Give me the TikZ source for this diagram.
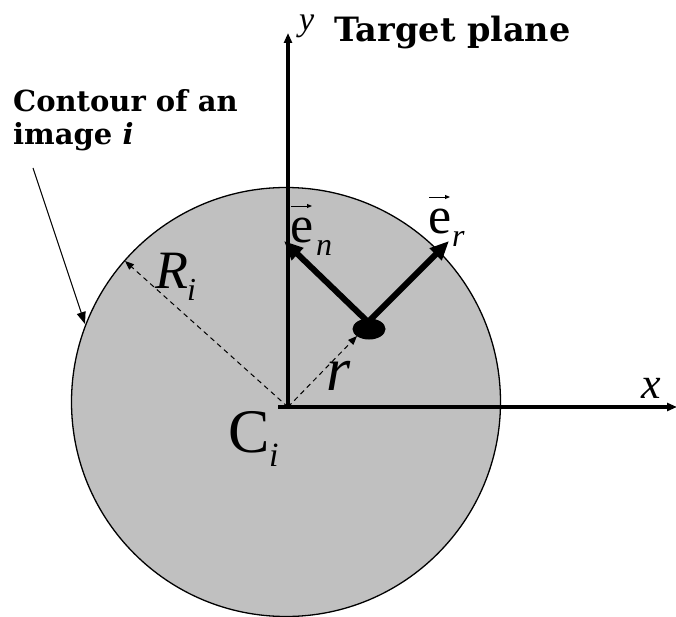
\documentclass[tikz,border=0pt]{standalone}
\usepackage{fontspec}
\setmainfont{Liberation Serif}
\newfontfamily\labfont{DejaVu Serif}
\usetikzlibrary{arrows.meta,shapes.geometric}
\definecolor{diskgray}{HTML}{C0C0C0}
\begin{document}
\begin{tikzpicture}[x=1pt,y=-1pt,
  axis/.style={line width=3.2pt,-{Triangle[length=10pt,width=8pt]}},
  vect/.style={line width=6pt,-{Triangle[length=19pt,width=16pt]}},
  dashline/.style={line width=1pt,dash pattern=on 5pt off 4pt,-{Triangle[length=9pt,width=7pt]}},
  thinarrow/.style={line width=1pt,-{Triangle[length=12pt,width=9pt]}},
  title/.style={inner sep=0,anchor=base west,font=\labfont\bfseries\fontsize{33.5}{33}\selectfont},
  sym/.style={inner sep=0,anchor=base west,font=\itshape\fontsize{#1}{#1}\selectfont},
  upr/.style={inner sep=0,anchor=base west,font=\upshape\fontsize{#1}{#1}\selectfont},
  vecarr/.style={line width=0.9pt,-{Triangle[length=5pt,width=4pt]}}]
\useasboundingbox (0,0) rectangle (676,617);
% disk
\node[circle,draw,line width=1.3pt,fill=diskgray,minimum size=429pt,inner sep=0] (disk) at (286,402) {};
% axes
\coordinate (O) at (288,407);
\coordinate (xs) at (278,407);
\coordinate (xe) at (677,407);
\coordinate (ye) at (288,33);
\draw[axis] (xs) -- (xe);
\draw[axis] (O) -- (ye);
% point and vectors
\node[ellipse,fill=black,minimum width=33pt,minimum height=21pt,inner sep=0] (P) at (369,329) {};
\coordinate (Ps) at (368,322);
\coordinate (en) at (284,241);
\coordinate (er) at (449,241);
\draw[vect] (Ps) -- (en);
\draw[vect] (Ps) -- (er);
% dashed arrows
\coordinate (rp) at (357,336);
\coordinate (Rp) at (125,261);
\draw[dashline] (O) -- (rp);
\draw[dashline] (O) -- (Rp);
% contour arrow
\coordinate (cs) at (33,168);
\coordinate (ce) at (85,324);
\draw[thinarrow] (cs) -- (ce);
% labels
\node[title] (ttl) at (334,42) {Target plane};
\node[inner sep=0,anchor=base west,align=left,font=\labfont\bfseries\fontsize{29}{33}\selectfont] (cont) at (13,112) {Contour of an};
\node[inner sep=0,anchor=base west,align=left,font=\labfont\bfseries\fontsize{29}{33}\selectfont] (cont2) at (13,145) {image \textit{i}};
\node[sym=34] (ylab) at (299,31) {y};
\node[sym=44] (xlab) at (641,398) {x};
\node[sym=62] (rlab) at (326,390) {r};
\node[sym=54] (Rlab) at (155,288) {R};
\node[sym=32] (Rsub) at (187,300) {i};
\node[upr=62] (Clab) at (228,452) {C};
\node[sym=34] (Csub) at (269,466) {i};
\node[upr=52] (enlab) at (290,243) {e};
\node[sym=32] (ensub) at (316,255) {n};
\node[upr=52] (erlab) at (428,234) {e};
\node[sym=32] (ersub) at (452,247) {r};
\coordinate (ena) at (291,206);
\coordinate (enb) at (312,206);
\coordinate (era) at (429,197);
\coordinate (erb) at (450,197);
\draw[vecarr] (ena) -- (enb);
\draw[vecarr] (era) -- (erb);
\end{tikzpicture}
\end{document}
